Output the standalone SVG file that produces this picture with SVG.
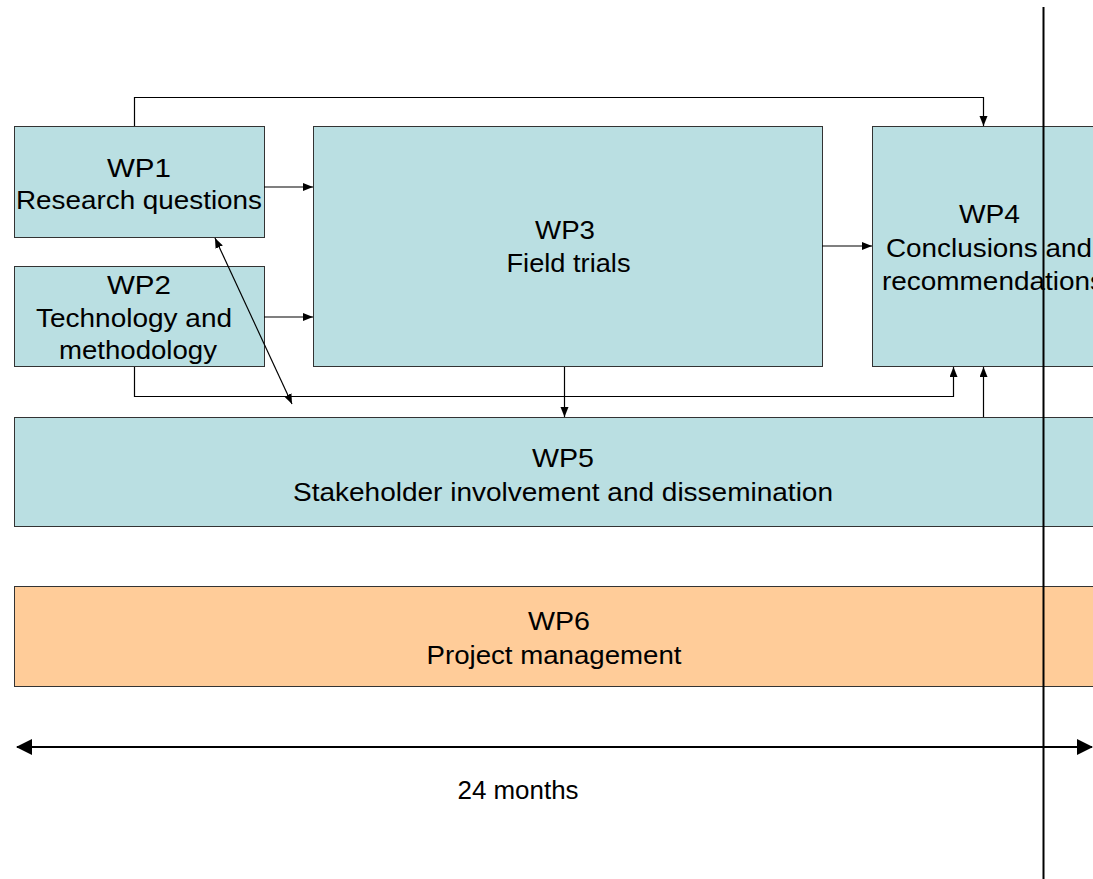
<svg xmlns="http://www.w3.org/2000/svg" width="1093" height="879" viewBox="0 0 1093 879">
<style>
.box{fill:#BADFE2;stroke:#333;stroke-width:1}
.org{fill:#FFCC99;stroke:#333;stroke-width:1}
.t{font-family:"Liberation Sans",Arial,sans-serif;font-size:26px;fill:#000;text-anchor:middle}
.c{fill:none;stroke:#000;stroke-width:1.2}
</style>
<defs>
<marker id="ah" markerUnits="userSpaceOnUse" markerWidth="12" markerHeight="10" refX="10" refY="4" orient="auto-start-reverse">
<path d="M0,0 L10,4 L0,8 z" fill="#000"/>
</marker>
<marker id="bh" markerUnits="userSpaceOnUse" markerWidth="18" markerHeight="18" refX="15" refY="8" orient="auto-start-reverse">
<path d="M0,0 L16,8 L0,16 z" fill="#000"/>
</marker>
</defs>
<rect width="1093" height="879" fill="#fff"/>
<g id="wp1">
<rect class="box" x="14.5" y="126.5" width="250" height="111"/>
<text class="t" x="139" y="177" textLength="64" lengthAdjust="spacingAndGlyphs">WP1</text>
<text class="t" x="139" y="209" textLength="246" lengthAdjust="spacingAndGlyphs">Research questions</text>
</g>
<g id="wp2">
<rect class="box" x="14.5" y="266.5" width="250" height="100"/>
<text class="t" x="139" y="294" textLength="64" lengthAdjust="spacingAndGlyphs">WP2</text>
<text class="t" x="134" y="327" textLength="196" lengthAdjust="spacingAndGlyphs">Technology and</text>
<text class="t" x="138" y="359" textLength="158" lengthAdjust="spacingAndGlyphs">methodology</text>
</g>
<g id="wp3">
<rect class="box" x="313.5" y="126.5" width="509" height="240"/>
<text class="t" x="565" y="239" textLength="60" lengthAdjust="spacingAndGlyphs">WP3</text>
<text class="t" x="568.5" y="272" textLength="124" lengthAdjust="spacingAndGlyphs">Field trials</text>
</g>
<g id="wp4">
<rect class="box" x="872.5" y="126.5" width="240" height="240"/>
<text class="t" x="989.5" y="223" textLength="61" lengthAdjust="spacingAndGlyphs">WP4</text>
<text class="t" x="989" y="257" textLength="206" lengthAdjust="spacingAndGlyphs">Conclusions and</text>
<text class="t" x="993" y="290" textLength="222" lengthAdjust="spacingAndGlyphs">recommendations</text>
</g>
<g id="wp5">
<rect class="box" x="14.5" y="417.5" width="1100" height="109"/>
<text class="t" x="563" y="467" textLength="62" lengthAdjust="spacingAndGlyphs">WP5</text>
<text class="t" x="563" y="501" textLength="540" lengthAdjust="spacingAndGlyphs">Stakeholder involvement and dissemination</text>
</g>
<g id="wp6">
<rect class="org" x="14.5" y="586.5" width="1100" height="100"/>
<text class="t" x="559" y="630" textLength="62" lengthAdjust="spacingAndGlyphs">WP6</text>
<text class="t" x="554" y="664" textLength="255" lengthAdjust="spacingAndGlyphs">Project management</text>
</g>
<g id="connectors">
<path class="c" d="M134.5,126 V97.5 H983.5 V126" marker-end="url(#ah)"/>
<path class="c" d="M264,187 H313" marker-end="url(#ah)"/>
<path class="c" d="M264,317 H313" marker-end="url(#ah)"/>
<path class="c" d="M822,246 H872" marker-end="url(#ah)"/>
<path class="c" d="M134.5,367 V396.5 H953.5 V367" marker-end="url(#ah)"/>
<path class="c" d="M564.5,367 V417" marker-end="url(#ah)"/>
<path class="c" d="M983.5,417 V367" marker-end="url(#ah)"/>
<path class="c" d="M215,238 L292,404" marker-start="url(#ah)" marker-end="url(#ah)"/>
<path fill="none" stroke="#000" stroke-width="2" d="M17,747 H1092" marker-start="url(#bh)" marker-end="url(#bh)"/>
<path fill="none" stroke="#000" stroke-width="2" d="M1043.5,7 V879"/>
</g>
<text class="t" x="518" y="799" textLength="121" lengthAdjust="spacingAndGlyphs">24 months</text>
</svg>
